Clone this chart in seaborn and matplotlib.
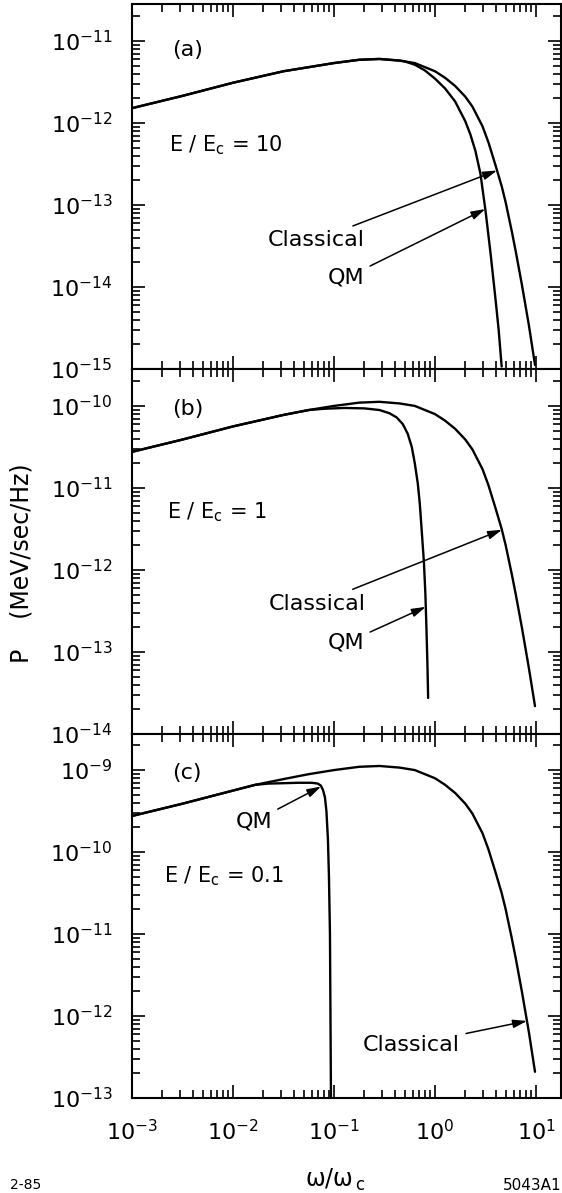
import numpy as np
import pandas as pd
import matplotlib
matplotlib.use("Agg")
import matplotlib.pyplot as plt
import seaborn as sns
from matplotlib.ticker import LogLocator, NullFormatter, FixedLocator, LogFormatterSciNotation

# ---------------- data (log10 values of the log-log axes) ----------------
# panel (a): E/Ec = 10
a_cl_logx = [-3.0, -2.5, -2.0, -1.5, -1.0, -0.75, -0.55, -0.35, -0.2, 0.0, 0.1, 0.2, 0.3,
             0.37, 0.47, 0.53, 0.6, 0.66, 0.7, 0.76, 0.8, 0.86, 0.93, 0.99]
a_cl_logp = [-11.82, -11.67, -11.51, -11.37, -11.27, -11.23, -11.22, -11.24, -11.27, -11.37,
             -11.45, -11.55, -11.68, -11.80, -12.04, -12.24, -12.52, -12.77, -12.97, -13.32,
             -13.57, -13.97, -14.47, -14.95]
a_qm_logx = [-3.0, -2.5, -2.0, -1.5, -1.0, -0.75, -0.55, -0.35, -0.3, -0.2, -0.1, 0.0, 0.1,
             0.2, 0.3, 0.35, 0.4, 0.45, 0.5, 0.55, 0.6, 0.63, 0.66]
a_qm_logp = [-11.82, -11.67, -11.51, -11.37, -11.27, -11.23, -11.22, -11.24, -11.25, -11.29,
             -11.36, -11.46, -11.58, -11.74, -11.98, -12.14, -12.34, -12.62, -13.07, -13.59,
             -14.16, -14.52, -14.97]

# panel (b): E/Ec = 1
b_cl_logx = [-3.0, -2.5, -2.0, -1.5, -1.25, -1.0, -0.75, -0.55, -0.35, -0.2, 0.0, 0.1, 0.2,
             0.3, 0.37, 0.47, 0.53, 0.6, 0.66, 0.7, 0.76, 0.8, 0.86, 0.93, 0.99]
b_cl_logp = [-10.56, -10.41, -10.25, -10.11, -10.05, -10.00, -9.96, -9.95, -9.97, -10.00,
             -10.10, -10.18, -10.28, -10.41, -10.53, -10.77, -10.97, -11.25, -11.50, -11.70,
             -12.05, -12.30, -12.70, -13.20, -13.66]
b_qm_logx = [-3.0, -2.5, -2.0, -1.5, -1.25, -1.1, -0.9, -0.7, -0.55, -0.45, -0.38, -0.32,
             -0.27, -0.23, -0.2, -0.17, -0.15, -0.13, -0.11, -0.095, -0.085, -0.075, -0.068]
b_qm_logp = [-10.56, -10.41, -10.25, -10.11, -10.05, -10.035, -10.025, -10.03, -10.05,
             -10.09, -10.14, -10.22, -10.34, -10.50, -10.70, -10.95, -11.20, -11.55, -11.90,
             -12.30, -12.70, -13.15, -13.56]

# panel (c): E/Ec = 0.1
c_cl_logx = [-3.0, -2.5, -2.0, -1.78, -1.5, -1.25, -1.0, -0.75, -0.55, -0.35, -0.2, 0.0, 0.1,
             0.2, 0.3, 0.37, 0.47, 0.53, 0.6, 0.66, 0.7, 0.76, 0.8, 0.86, 0.93, 0.99]
c_cl_logp = [-9.56, -9.41, -9.25, -9.18, -9.11, -9.05, -9.00, -8.96, -8.95, -8.97, -9.00,
             -9.10, -9.18, -9.28, -9.41, -9.53, -9.77, -9.97, -10.25, -10.50, -10.70, -11.05,
             -11.30, -11.70, -12.20, -12.68]
c_qm_logx = [-3.0, -2.5, -2.0, -1.78, -1.65, -1.5, -1.35, -1.22, -1.16, -1.13, -1.11, -1.09,
             -1.075, -1.06, -1.05, -1.04, -1.035, -1.03]
c_qm_logp = [-9.56, -9.41, -9.25, -9.18, -9.165, -9.16, -9.155, -9.155, -9.165, -9.19, -9.24,
             -9.33, -9.50, -9.85, -10.30, -11.00, -12.00, -13.00]

panel_tags = ["(a)", "(b)", "(c)"]
ratio_labels = [r"E / E$_{\mathrm{c}}$ = 10", r"E / E$_{\mathrm{c}}$ = 1",
                r"E / E$_{\mathrm{c}}$ = 0.1"]
y_log_limits = [(-15.0, -10.55), (-14.0, -9.55), (-13.0, -8.56)]
y_major_exps = [[-15, -14, -13, -12, -11], [-14, -13, -12, -11, -10], [-13, -12, -11, -10, -9]]
x_log_limits = (-3.0, 1.2475)
x_major_exps = [-3, -2, -1, 0, 1]

# annotations: (text, text logx, text logP, tip logx, tip logP)
a_notes = [("Classical", -0.70, -13.43, 0.614, -12.58),
           ("QM", -0.70, -13.89, 0.498, -13.05)]
b_notes = [("Classical", -0.69, -12.41, 0.663, -11.51),
           ("QM", -0.70, -12.89, -0.092, -12.45)]
c_notes = [("QM", -1.614, -9.63, -1.128, -9.20),
           ("Classical", 0.248, -12.35, 0.911, -12.06)]

# ---------------- styling ----------------
sns.set_style("ticks")
plt.rcParams['font.family'] = ['DejaVu Sans']
plt.rcParams['mathtext.default'] = 'regular'
plt.rcParams['text.color'] = 'black'
plt.rcParams['axes.labelcolor'] = 'black'
plt.rcParams['xtick.color'] = 'black'
plt.rcParams['ytick.color'] = 'black'
plt.rcParams['axes.edgecolor'] = 'black'
plt.rcParams['axes.linewidth'] = 1.5

fig = plt.figure(figsize=(5.62, 11.93), dpi=100)
W, H = 562.0, 1193.0
left, right = 132 / W, 561 / W
bounds = [(4, 369), (369, 734), (734, 1098)]

series = [
    (a_cl_logx, a_cl_logp, a_qm_logx, a_qm_logp, a_notes),
    (b_cl_logx, b_cl_logp, b_qm_logx, b_qm_logp, b_notes),
    (c_cl_logx, c_cl_logp, c_qm_logx, c_qm_logp, c_notes),
]
tag_pos = [(0.093, 0.874), (0.093, 0.890), (0.093, 0.893)]
ratio_pos = [(0.086, 0.595), (0.082, 0.592), (0.074, 0.593)]

for i, ((clx, clp, qmx, qmp, notes), (t, b)) in enumerate(zip(series, bounds)):
    ax = fig.add_axes([left, 1 - b / H, right - left, (b - t) / H])
    ax.set_xscale('log')
    ax.set_yscale('log')
    df_cl = pd.DataFrame({"x": np.power(10.0, clx), "P": np.power(10.0, clp)})
    df_qm = pd.DataFrame({"x": np.power(10.0, qmx), "P": np.power(10.0, qmp)})
    sns.lineplot(data=df_cl, x="x", y="P", ax=ax, color="black", lw=1.7,
                 sort=False, estimator=None)
    sns.lineplot(data=df_qm, x="x", y="P", ax=ax, color="black", lw=1.7,
                 sort=False, estimator=None)
    ax.set_xlim(10 ** x_log_limits[0], 10 ** x_log_limits[1])
    ax.set_ylim(10 ** y_log_limits[i][0], 10 ** y_log_limits[i][1])
    ax.xaxis.set_major_locator(FixedLocator([10.0 ** e for e in x_major_exps]))
    ax.yaxis.set_major_locator(FixedLocator([10.0 ** e for e in y_major_exps[i]]))
    for axis in (ax.xaxis, ax.yaxis):
        axis.set_major_formatter(LogFormatterSciNotation())
        axis.set_minor_locator(LogLocator(base=10, subs=np.arange(2, 10), numticks=30))
        axis.set_minor_formatter(NullFormatter())
    ax.tick_params(which='both', direction='in', top=True, right=True, width=1.2,
                   colors='black')
    ax.tick_params(which='major', length=9.5, labelsize=16)
    ax.tick_params(which='minor', length=5.5)
    ax.tick_params(axis='y', which='major', pad=14)
    ax.tick_params(axis='x', which='major', pad=15)
    if i < 2:
        ax.tick_params(labelbottom=False)
    ax.set_xlabel("")
    ax.set_ylabel("")
    for s in ax.spines.values():
        s.set_color('black')
        s.set_linewidth(1.5)

    ax.text(tag_pos[i][0], tag_pos[i][1], panel_tags[i], transform=ax.transAxes,
            fontsize=16, ha='left', va='center', color='black')
    ax.text(ratio_pos[i][0], ratio_pos[i][1], ratio_labels[i], transform=ax.transAxes,
            fontsize=15, ha='left', va='baseline', color='black')
    for (txt, tx, ty, px, py) in notes:
        ax.annotate(txt, xy=(10 ** px, 10 ** py), xytext=(10 ** tx, 10 ** ty),
                    ha='right', va='center', fontsize=16, color='black',
                    arrowprops=dict(arrowstyle='-|>,head_length=0.6,head_width=0.18',
                                    color='black', lw=1.1, shrinkA=2, shrinkB=0,
                                    mutation_scale=14))

fig.text(22 / W, 1 - 563 / H, "P    (MeV/sec/Hz)", rotation=90, ha='center',
         va='center', fontsize=17, color='black')
fig.text(335 / W, 1 - 1180 / H, r"$\omega/\omega_{\,\mathrm{c}}$", ha='center',
         va='center', fontsize=17, color='black')
fig.text(10 / W, 1 - 1185 / H, "2-85", ha='left', va='center', fontsize=10, color='black')
fig.text(561 / W, 1 - 1186 / H, "5043A1", ha='right', va='center', fontsize=11,
         color='black')

fig.savefig("out.png", dpi=100)
